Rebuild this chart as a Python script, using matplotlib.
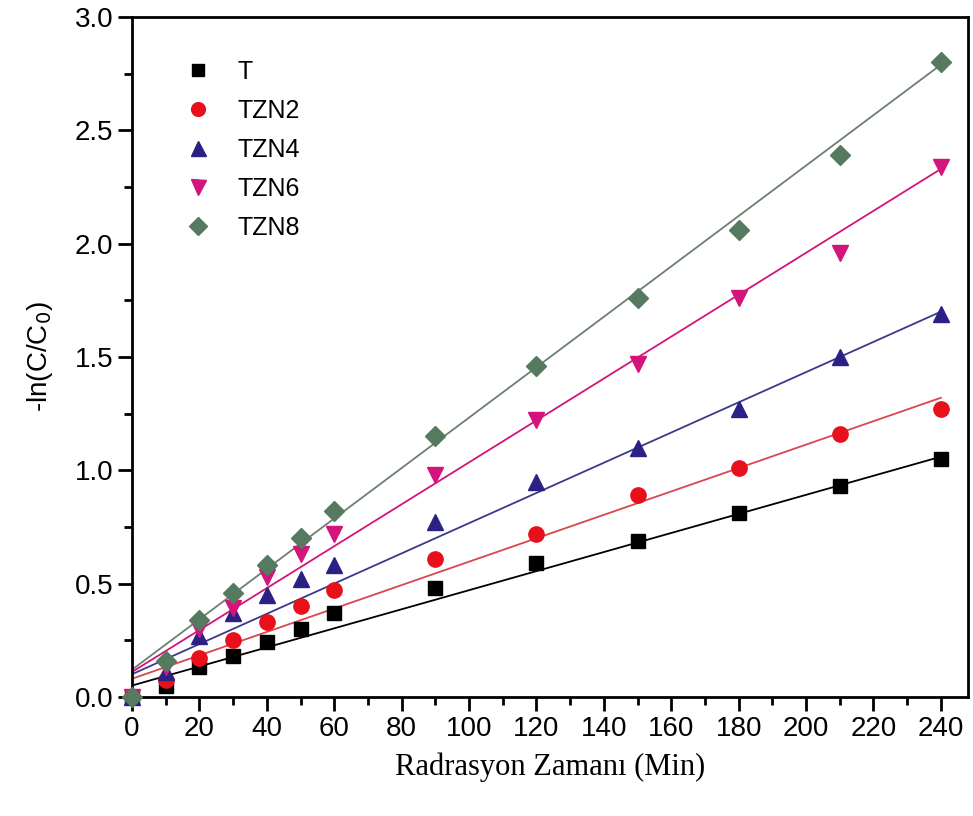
import matplotlib
matplotlib.use("Agg")
import matplotlib.pyplot as plt
from matplotlib.ticker import MultipleLocator

plt.rcParams['font.family'] = ['Liberation Sans', 'DejaVu Sans']

time = [0, 10, 20, 30, 40, 50, 60, 90, 120, 150, 180, 210, 240]

T = [0.0, 0.05, 0.13, 0.18, 0.24, 0.30, 0.37, 0.48, 0.59, 0.69, 0.81, 0.93, 1.05]
TZN2 = [0.0, 0.075, 0.17, 0.25, 0.33, 0.40, 0.47, 0.61, 0.72, 0.89, 1.01, 1.16, 1.27]
TZN4 = [0.0, 0.11, 0.27, 0.37, 0.45, 0.52, 0.58, 0.77, 0.95, 1.10, 1.27, 1.50, 1.69]
TZN6 = [0.0, 0.13, 0.30, 0.39, 0.53, 0.63, 0.72, 0.98, 1.22, 1.47, 1.76, 1.96, 2.34]
TZN8 = [0.0, 0.16, 0.34, 0.46, 0.58, 0.70, 0.82, 1.15, 1.46, 1.76, 2.06, 2.39, 2.80]

# fitted lines: (value at 0, value at 240)
fit_T = (0.05, 1.06)
fit_TZN2 = (0.08, 1.32)
fit_TZN4 = (0.10, 1.70)
fit_TZN6 = (0.11, 2.33)
fit_TZN8 = (0.12, 2.79)

series = [
    ('T', T, fit_T, 's', '#000000', '#000000', 10),
    ('TZN2', TZN2, fit_TZN2, 'o', '#e8101a', '#d9474f', 11),
    ('TZN4', TZN4, fit_TZN4, '^', '#2b2185', '#3a3a8a', 12),
    ('TZN6', TZN6, fit_TZN6, 'v', '#d4147a', '#d4147a', 12),
    ('TZN8', TZN8, fit_TZN8, 'D', '#557a60', '#6b8070', 10),
]

fig = plt.figure(figsize=(9.73, 8.16), dpi=100)
ax = fig.add_axes([0.1357, 0.146, 0.859, 0.833])

for name, vals, fit, mk, mc, lc, ms in series:
    ax.plot([0, 240], list(fit), color=lc, lw=1.3, zorder=2)
    ax.plot(time, vals, linestyle='none', marker=mk, color=mc, markersize=ms,
            label=name, zorder=3, clip_on=False)

ax.set_xlim(0, 248)
ax.set_ylim(0, 3.0)
ax.xaxis.set_major_locator(MultipleLocator(20))
ax.xaxis.set_minor_locator(MultipleLocator(10))
ax.yaxis.set_major_locator(MultipleLocator(0.5))
ax.yaxis.set_minor_locator(MultipleLocator(0.25))
ax.yaxis.set_major_formatter(matplotlib.ticker.FormatStrFormatter('%.1f'))

ax.tick_params(which='major', direction='out', length=10, width=2, labelsize=20, top=False, right=False)
ax.tick_params(which='minor', direction='out', length=6, width=2, top=False, right=False)
for sp in ax.spines.values():
    sp.set_linewidth(2)

ax.set_ylabel('-ln(C/C$_0$)', fontsize=20, labelpad=14)
ax.set_xlabel('Radrasyon Zamanı (Min)', fontsize=22, family='Liberation Serif', labelpad=8)

ax.legend(loc='upper left', bbox_to_anchor=(0.022, 0.97), frameon=False, fontsize=18,
          handletextpad=0.6, labelspacing=0.6, markerscale=0.9)

fig.savefig('out.png', dpi=100)
